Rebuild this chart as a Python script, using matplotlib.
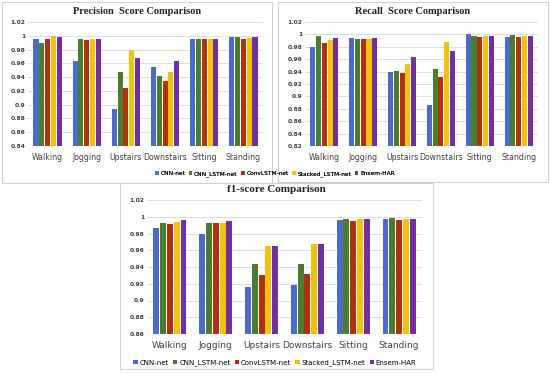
import numpy as np
import matplotlib
matplotlib.use('Agg')
import matplotlib.pyplot as plt
from matplotlib.patches import Rectangle

activities = ["Walking", "Jogging", "Upstairs", "Downstairs", "Sitting", "Standing"]
models = ["CNN-net", "CNN_LSTM-net", "ConvLSTM-net", "Stacked_LSTM-net", "Ensem-HAR"]
colors = ["#4a6cc8", "#4c7d2c", "#b0300f", "#f4c20d", "#7030a0"]

# values per model, ordered as activities
precision = {
    "CNN-net":          [0.996, 0.964, 0.893, 0.955, 0.995, 0.998],
    "CNN_LSTM-net":     [0.990, 0.996, 0.947, 0.942, 0.996, 0.998],
    "ConvLSTM-net":     [0.996, 0.994, 0.924, 0.934, 0.995, 0.995],
    "Stacked_LSTM-net": [1.000, 0.996, 0.979, 0.947, 0.996, 0.997],
    "Ensem-HAR":        [0.998, 0.996, 0.968, 0.963, 0.996, 0.998],
}
recall = {
    "CNN-net":          [0.980, 0.995, 0.939, 0.886, 1.000, 0.996],
    "CNN_LSTM-net":     [0.997, 0.992, 0.941, 0.945, 0.998, 0.999],
    "ConvLSTM-net":     [0.986, 0.993, 0.937, 0.931, 0.996, 0.996],
    "Stacked_LSTM-net": [0.991, 0.992, 0.952, 0.987, 0.997, 0.998],
    "Ensem-HAR":        [0.995, 0.995, 0.964, 0.973, 0.998, 0.998],
}
f1 = {
    "CNN-net":          [0.987, 0.979, 0.916, 0.919, 0.996, 0.997],
    "CNN_LSTM-net":     [0.993, 0.993, 0.944, 0.943, 0.997, 0.998],
    "ConvLSTM-net":     [0.991, 0.993, 0.930, 0.932, 0.995, 0.996],
    "Stacked_LSTM-net": [0.994, 0.993, 0.965, 0.967, 0.997, 0.997],
    "Ensem-HAR":        [0.996, 0.995, 0.965, 0.968, 0.997, 0.997],
}

plt.rcParams['font.family'] = ['DejaVu Sans']
fig = plt.figure(figsize=(5.5, 3.73), dpi=100)
W, H = 550, 373


def px_rect(x0, y0, x1, y1):
    # pixel box -> figure fraction [left, bottom, width, height]
    return [x0 / W, 1 - y1 / H, (x1 - x0) / W, (y1 - y0) / H]


def panel(ax_box, frame_box, data, title, ylo, yticks, leg_y, title_y,
          cat_fs=7, leg_fs=5, title_fs=8):
    fx0, fy0, fx1, fy1 = frame_box
    fig.patches.append(Rectangle((fx0 / W, 1 - fy1 / H), (fx1 - fx0) / W, (fy1 - fy0) / H,
                                 transform=fig.transFigure, fill=True, facecolor='white',
                                 edgecolor='#d0d0d0', lw=0.8, zorder=0))
    ax = fig.add_axes(px_rect(*ax_box))
    ax.set_zorder(1)
    x = np.arange(len(activities))
    step = 0.148
    for i, m in enumerate(models):
        ax.bar(x + (i - 2) * step, data[m], width=0.13, color=colors[i],
               label=m, zorder=3)
    ax.set_ylim(ylo, 1.02)
    ax.set_xlim(-0.5, len(activities) - 0.5)
    ax.set_yticks(yticks)
    ax.set_yticklabels([f"{t:g}" for t in yticks], fontsize=4.3, fontweight='bold', color='#404040')
    ax.set_xticks(x)
    ax.set_xticklabels(activities, fontsize=cat_fs, color='#404040')
    ax.tick_params(axis='y', length=0, pad=2)
    ax.tick_params(axis='x', length=0, pad=5)
    ax.grid(axis='y', color='#d9d9d9', lw=0.6, zorder=0)
    ax.set_axisbelow(True)
    for s in ax.spines.values():
        s.set_visible(False)
    ax.patch.set_alpha(0)
    fig.text((fx0 + fx1) / 2 / W, 1 - title_y / H, title, ha='center', va='center',
             fontsize=title_fs, fontweight='bold', family='Liberation Serif', color='#222222')
    ax.legend(loc='center', bbox_to_anchor=(0.5, 1 - leg_y / H), bbox_transform=fig.transFigure,
              ncol=5, frameon=False, fontsize=leg_fs, handlelength=0.6, handleheight=0.6,
              handletextpad=0.3, columnspacing=0.6)
    return ax


panel((28, 22, 263, 146), (2, 2, 272, 183), precision, "Precision  Score Comparison",
      0.84, np.arange(0.84, 1.021, 0.02).round(2), 174, 12, cat_fs=5.6, leg_fs=4.2, title_fs=7.5)
panel((305, 22, 538, 146), (278, 2, 548, 182), recall, "Recall  Score Comparison",
      0.82, np.arange(0.82, 1.021, 0.02).round(2), 174, 12, cat_fs=5.6, leg_fs=4.2, title_fs=7.5)
panel((147, 200, 422, 334), (120, 183, 433, 369), f1, "f1-score Comparison",
      0.86, np.arange(0.86, 1.021, 0.02).round(2), 363, 190, cat_fs=6.5, leg_fs=5, title_fs=8)

fig.savefig("out.png", dpi=100, facecolor='white')
